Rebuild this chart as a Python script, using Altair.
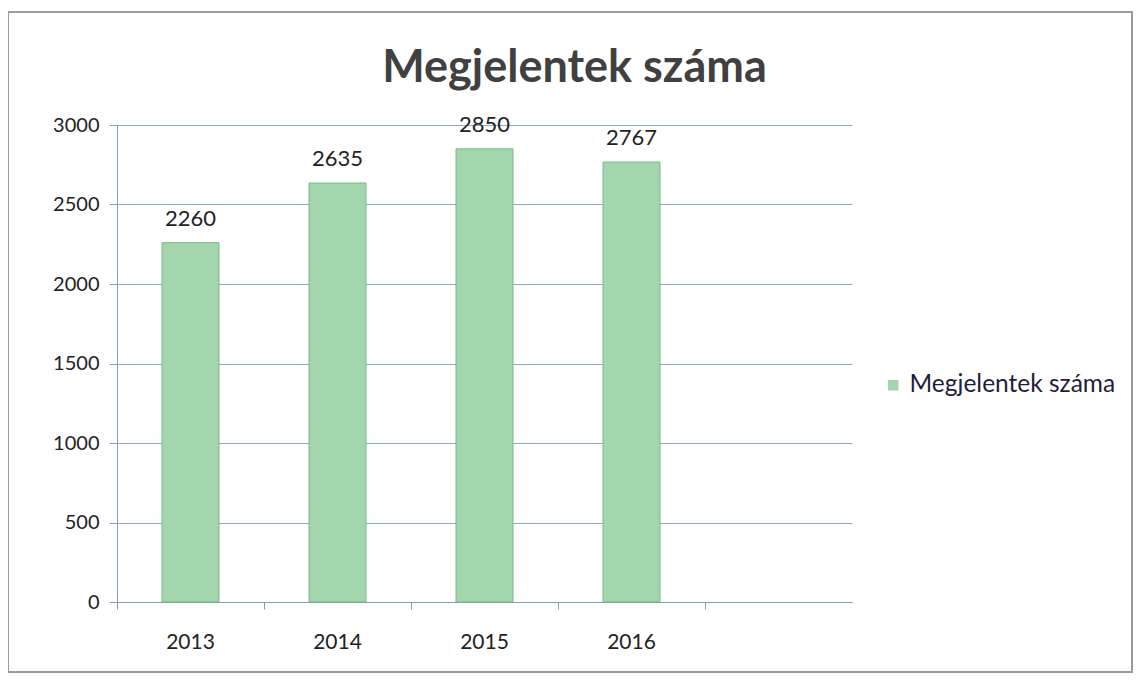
import altair as alt
import pandas as pd

years = ["2013", "2014", "2015", "2016"]
values = [2260, 2635, 2850, 2767]
series_name = "Megjelentek száma"
x_domain = years + [" "]
y_ticks = [0, 500, 1000, 1500, 2000, 2500, 3000]

df = pd.DataFrame({"year": years, "value": values, "series": [series_name] * len(years)})

W, H = 735, 477
FONT = "Lato"

x_enc = alt.X("year:N", scale=alt.Scale(domain=x_domain, paddingInner=0, paddingOuter=0),
              axis=alt.Axis(title=None, bandPosition=0, labelFontSize=21, labelColor="#222222",
                            labelFont=FONT, labelPadding=22, labelAngle=0, tickSize=7,
                            tickColor="#7f9cc4", domainColor="#7f9cc4", grid=False))
y_enc = alt.Y("value:Q", scale=alt.Scale(domain=[0, 3000], nice=False),
              axis=alt.Axis(title=None, values=y_ticks, format="d", labelFontSize=20,
                            labelColor="#222222", labelFont=FONT, labelPadding=10, tickSize=8,
                            tickColor="#7f9cc4", domainColor="#7f9cc4", gridColor="#8fa9cc",
                            gridWidth=1))

bars = alt.Chart(df).mark_bar(size=57, stroke="#78b888", strokeWidth=1, fillOpacity=1).encode(
    x=x_enc,
    y=y_enc,
    color=alt.Color("series:N", scale=alt.Scale(range=["#a3d6ad"]),
                    legend=alt.Legend(title=None, orient="none", legendX=764, legendY=248,
                                      labelFontSize=24.5, labelFont=FONT, labelColor="#1e1e3c",
                                      labelLimit=0, labelOffset=4, symbolType="square",
                                      symbolSize=110, symbolStrokeWidth=0,
                                      symbolFillColor="#a8dcc4")),
)

labels = alt.Chart(df).mark_text(baseline="bottom", dy=-12, fontSize=22, font=FONT, color="#222222").encode(
    x=alt.X("year:N", scale=alt.Scale(domain=x_domain, paddingInner=0, paddingOuter=0)),
    y=alt.Y("value:Q"),
    text=alt.Text("value:Q", format="d"),
)

frame = alt.Chart(df).mark_rect(fill=None, stroke="#9a9a9a", strokeWidth=1.5).encode(
    x=alt.value(-109), x2=alt.value(W + 280), y=alt.value(-113), y2=alt.value(H + 70)
)

chart = alt.layer(frame, bars, labels).properties(
    width=W, height=H,
    title=alt.TitleParams(series_name, fontSize=45, font=FONT, fontWeight="bold", color="#404040",
                          anchor="middle", frame="group", dx=90, offset=-80),
    autosize=alt.AutoSizeParams(type="none"),
    padding={"left": 109, "top": 117, "right": 282, "bottom": 72},
).configure_view(stroke=None)

chart.save("out.html", embed_options={"renderer": "svg", "actions": False})
